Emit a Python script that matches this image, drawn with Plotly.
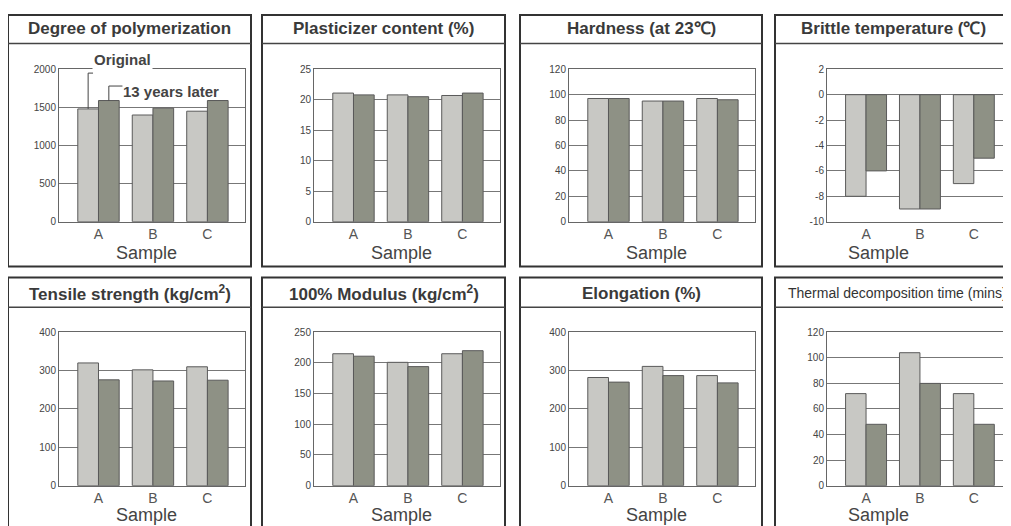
import plotly.graph_objects as go

samples = ["A", "B", "C"]

titles = [
    "Degree of polymerization",
    "Plasticizer content (%)",
    "Hardness (at 23℃)",
    "Brittle temperature (℃)",
    "Tensile strength (kg/cm<sup>2</sup>)",
    "100% Modulus (kg/cm<sup>2</sup>)",
    "Elongation (%)",
    "Thermal decomposition time (mins)",
]

# values: [A, B, C]
polymerization_original = [1480, 1400, 1450]
polymerization_later = [1590, 1490, 1590]
plasticizer_original = [21.1, 20.8, 20.7]
plasticizer_later = [20.8, 20.5, 21.1]
hardness_original = [97, 95, 97]
hardness_later = [97, 95, 96]
brittle_original = [-8, -9, -7]
brittle_later = [-6, -9, -5]
tensile_original = [320, 302, 310]
tensile_later = [276, 273, 275]
modulus_original = [215, 201, 215]
modulus_later = [211, 194, 220]
elongation_original = [282, 311, 287]
elongation_later = [270, 287, 268]
thermal_original = [72, 104, 72]
thermal_later = [48, 80, 48]

originals = [polymerization_original, plasticizer_original, hardness_original, brittle_original,
             tensile_original, modulus_original, elongation_original, thermal_original]
laters = [polymerization_later, plasticizer_later, hardness_later, brittle_later,
          tensile_later, modulus_later, elongation_later, thermal_later]

y_ranges = [(0, 2000), (0, 25), (0, 120), (-10, 2), (0, 400), (0, 250), (0, 400), (0, 120)]
y_steps = [500, 5, 20, 2, 100, 50, 100, 20]

W, H = 1011, 526
LIGHT = "#c8c8c4"
DARK = "#8e9185"
EDGE = "#5a5a5a"
FONT = "Liberation Sans"

# pixel geometry (in the target picture)
frame_x = [(8, 251), (262, 505), (520, 762), (775, 1020)]
plot_x = [(59, 245), (314, 500), (569, 755), (827, 1011)]
frame_y = [(10, 266), (277, 545)]
title_sep = [42, 307]
plot_y = [(68, 221), (332, 486)]
sample_y = [252, 515]


def px(x):
    return (x - 8) / W


def py(y):
    return min(1 - (y - 12.5) / 517, 0.998)


fig = go.Figure()
shapes = []
annotations = []

for i in range(8):
    r, c = divmod(i, 4)
    n = i + 1
    xa = "x" if n == 1 else f"x{n}"
    ya = "y" if n == 1 else f"y{n}"
    fig.add_trace(go.Bar(x=samples, y=originals[i], name="Original", marker_color=LIGHT,
                         marker_line_color=EDGE, marker_line_width=1, xaxis=xa, yaxis=ya,
                         showlegend=False))
    fig.add_trace(go.Bar(x=samples, y=laters[i], name="13 years later", marker_color=DARK,
                         marker_line_color=EDGE, marker_line_width=1, xaxis=xa, yaxis=ya,
                         showlegend=False))
    lo, hi = y_ranges[i]
    step = y_steps[i]
    ticks = list(range(lo, hi + 1, step))
    fig.layout[f"xaxis{'' if n == 1 else n}"] = dict(
        domain=[max(px(plot_x[c][0]), 0), min(px(plot_x[c][1]), 1)], anchor=ya,
        range=[-0.725, 2.69], showline=True, linecolor="#666", linewidth=1, mirror=True,
        showgrid=False, ticks="", tickfont=dict(family=FONT, size=14, color="#555"),
        fixedrange=True,
    )
    fig.layout[f"yaxis{'' if n == 1 else n}"] = dict(
        domain=[py(plot_y[r][1]), py(plot_y[r][0])], anchor=xa,
        range=[lo, hi], tickvals=ticks, ticktext=[str(t) for t in ticks],
        showline=True, linecolor="#666", linewidth=1,
        mirror=True, showgrid=True, gridcolor="#777", gridwidth=1, zeroline=False,
        ticks="", tickfont=dict(family=FONT, size=10, color="#444"),
        fixedrange=True,
    )
    # panel frame and title box
    fx0, fx1 = frame_x[c]
    fy0, fy1 = frame_y[r]
    shapes.append(dict(type="rect", xref="paper", yref="paper", x0=px(fx0), x1=px(fx1),
                       y0=py(fy1), y1=py(fy0), line=dict(color="#333", width=2)))
    shapes.append(dict(type="line", xref="paper", yref="paper", x0=px(fx0), x1=px(fx1),
                       y0=py(title_sep[r]), y1=py(title_sep[r]), line=dict(color="#444", width=1.5)))
    ty = py((fy0 + title_sep[r]) / 2 + 1)
    if i == 7:
        annotations.append(dict(text=titles[i], xref="paper", yref="paper", x=px(786),
                                y=ty, xanchor="left", yanchor="middle",
                                showarrow=False, font=dict(family=FONT, size=14, color="#333")))
    else:
        cx = (fx0 + fx1) / 2 if c < 3 else 893
        annotations.append(dict(text="<b>%s</b>" % titles[i], xref="paper", yref="paper",
                                x=px(cx), y=ty, xanchor="center", yanchor="middle",
                                showarrow=False, font=dict(family=FONT, size=17, color="#3a3a3a")))
    annotations.append(dict(text="Sample", xref="paper", yref="paper",
                            x=px((plot_x[c][0] + plot_x[c][1]) / 2 - 6 if c < 3 else 878),
                            y=py(sample_y[r]),
                            xanchor="center", yanchor="middle", showarrow=False,
                            font=dict(family=FONT, size=18, color="#444")))

# legend leaders in the first panel
annotations.append(dict(text="<b>Original</b>", xref="x", yref="paper", x=-0.12, y=py(58),
                        xanchor="left", yanchor="middle", showarrow=False, bgcolor="white",
                        borderpad=1, font=dict(family=FONT, size=15, color="#444")))
annotations.append(dict(text="<b>13 years later</b>", xref="x", yref="paper", x=0.42, y=py(90),
                        xanchor="left", yanchor="middle", showarrow=False,
                        font=dict(family=FONT, size=15, color="#444")))
shapes.append(dict(type="line", xref="x", yref="y", x0=-0.19, x1=-0.19,
                   y0=polymerization_original[0], y1=1950, line=dict(color="#444", width=1)))
shapes.append(dict(type="line", xref="x", yref="y", x0=-0.19, x1=-0.10,
                   y0=1950, y1=1950, line=dict(color="#444", width=1)))
shapes.append(dict(type="line", xref="x", yref="y", x0=0.19, x1=0.19,
                   y0=polymerization_later[0], y1=1780, line=dict(color="#444", width=1)))
shapes.append(dict(type="line", xref="x", yref="y", x0=0.19, x1=0.44,
                   y0=1780, y1=1780, line=dict(color="#444", width=1)))

fig.update_layout(
    width=W, height=H, margin=dict(l=0, r=0, t=0, b=0),
    paper_bgcolor="white", plot_bgcolor="white",
    barmode="group", bargap=0.24, bargroupgap=0,
    showlegend=False, shapes=shapes, annotations=annotations,
    font=dict(family=FONT),
)

fig.write_html("out.html")
